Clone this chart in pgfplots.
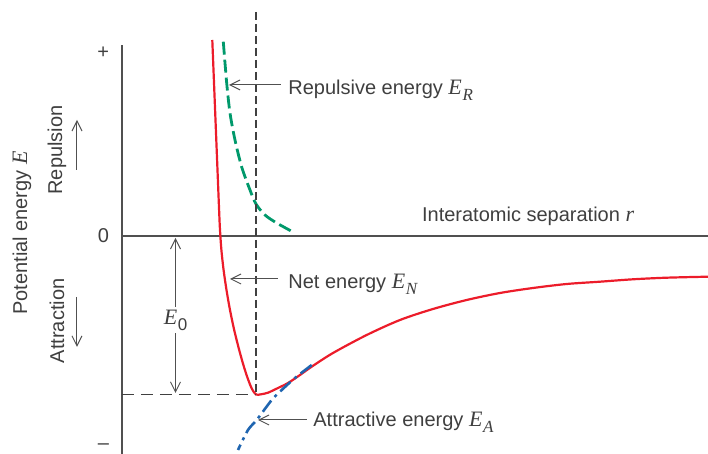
\documentclass[border=0pt]{standalone}
\usepackage{fontspec}
\setmainfont{Liberation Sans}
\newfontfamily\tms{Liberation Serif}
\usepackage{pgfplots}
\pgfplotsset{compat=1.18}
\usetikzlibrary{arrows.meta}

\definecolor{netred}{HTML}{EC1C2A}
\definecolor{repgreen}{HTML}{00996B}
\definecolor{attblue}{HTML}{1F65B0}
\definecolor{txt}{HTML}{3F3F3F}
\definecolor{axgray}{HTML}{505050}

% italic serif symbol with a subscript
\newcommand{\sym}[2]{{\tms\itshape\fontsize{11}{12}\selectfont #1}\kern0.3pt\raisebox{-3pt}{\fontsize{8.5}{9}\selectfont #2}}

\begin{document}
\begin{tikzpicture}[font=\fontsize{10}{12}\selectfont, every node/.style={text=txt},
  barb/.style={draw=axgray, line width=0.5pt, -{Straight Barb[length=5pt,width=5pt]}}]
\begin{axis}[
  x=0.5pt, y=0.5pt,
  xmin=122, xmax=708, ymin=-218, ymax=191,
  axis x line=middle, axis y line=left,
  axis line style={-, draw=axgray, line width=1pt},
  xtick=\empty,
  ytick={183,0,-211}, yticklabels={+,0,--},
  major tick length=0pt,
  yticklabel style={text=txt, xshift=-3pt},
  clip=false,
]
% net energy
\addplot[netred, line width=1.1pt, smooth, tension=0.5] coordinates {
  (212.3,196) (214.7,136) (217.1,76) (219.1,26) (220,6) (221.4,-14)
  (223.6,-34) (226.5,-54) (230,-74) (234.2,-94) (239.2,-114) (244,-131)
  (248.3,-144) (252,-153) (256,-158.5) (261,-158.3)
  (268,-156.7) (278,-152) (288,-147) (300,-139) (311.7,-130.7) (333,-117)
  (366.7,-99) (400,-84) (433,-73) (466.7,-64) (500,-57) (533,-52)
  (566.7,-48) (600,-45.7) (633,-43.3) (666.7,-41.7) (708,-40.7)
};
% repulsive energy
\addplot[repgreen, line width=1.4pt, dash pattern=on 6.5pt off 2.5pt, smooth] coordinates {
  (223.3,194.3) (226.7,153) (230,123) (235,96) (241.7,69) (250,46)
  (256,32) (265,21) (276.7,13) (293,4)
};
% attractive energy
\addplot[attblue, line width=1.3pt, dash pattern=on 7pt off 2.5pt on 1.5pt off 2.5pt, smooth] coordinates {
  (311.7,-129) (295,-142) (281.7,-154) (271.7,-164) (256.7,-184) (248,-194) (238,-214)
};
% guide lines
\addplot[black!75, line width=0.6pt, dash pattern=on 4pt off 2pt] coordinates {(256,224) (256,-158.5)};
\addplot[black!75, line width=0.6pt, dash pattern=on 6pt off 3.5pt] coordinates {(122,-158.5) (256,-158.5)};

% E0
\draw[draw=axgray, line width=0.5pt, {Straight Barb[length=5pt,width=5pt]}-{Straight Barb[length=5pt,width=5pt]}]
  (axis cs:175.5,-2) -- (axis cs:175.5,-157);
\node[fill=white, inner sep=1.5pt] at (axis cs:175.5,-84) {\sym{E}{0}};

% callouts
\draw[barb] (axis cs:281,151) -- (axis cs:229,151);
\node[anchor=base west, inner sep=0pt] at (axis cs:288,141) {Repulsive energy \sym{E}{\tms\itshape R}};
\draw[barb] (axis cs:278,-43) -- (axis cs:230,-43);
\node[anchor=base west, inner sep=0pt] at (axis cs:288,-52.3) {Net energy \sym{E}{\tms\itshape N}};
\draw[barb] (axis cs:307,-184) -- (axis cs:258,-184);
\node[anchor=base west, inner sep=0pt] at (axis cs:313,-190.7) {Attractive energy \sym{E}{\tms\itshape A}};
\node[anchor=base west, inner sep=0pt] at (axis cs:421.7,14.3) {Interatomic separation {\tms\itshape\fontsize{11}{12}\selectfont r}};

% left labels
\node[rotate=90] at (axis cs:22,3) {Potential energy {\tms\itshape\fontsize{11}{12}\selectfont E}};
\node[rotate=90] at (axis cs:57,86) {Repulsion};
\node[rotate=90] at (axis cs:57,-85) {Attraction};
\draw[barb] (axis cs:77,66) -- (axis cs:77,116);
\draw[barb] (axis cs:77,-61) -- (axis cs:77,-111);

\coordinate (bl) at (axis cs:0,-218);
\coordinate (tr) at (axis cs:708,236);
\end{axis}
\pgfresetboundingbox
\path (bl) rectangle (tr);
\end{tikzpicture}
\end{document}
